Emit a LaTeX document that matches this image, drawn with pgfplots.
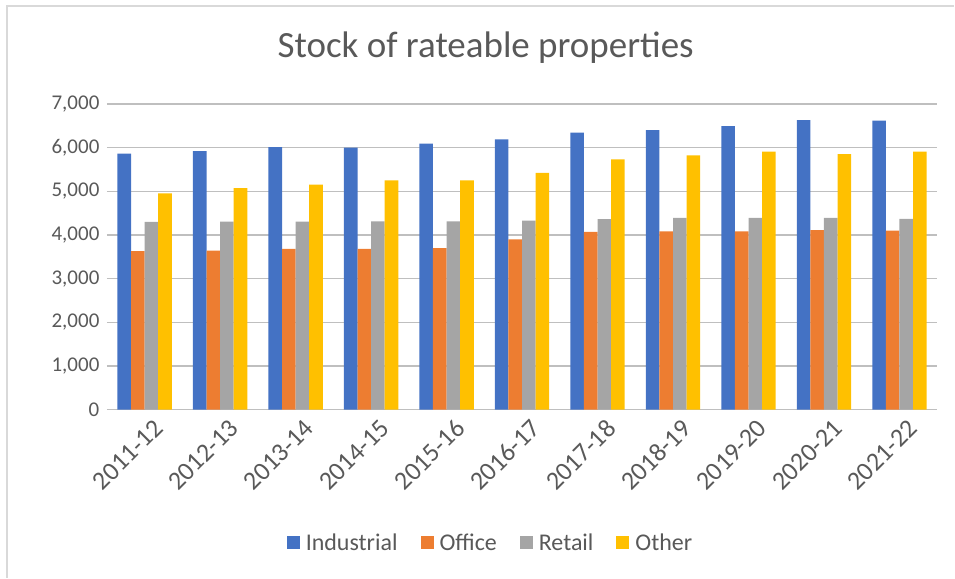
\documentclass[border=0pt]{standalone}
\usepackage{pgfplots}
\pgfplotsset{compat=1.18}
\usepackage{fontspec}
\setmainfont{Carlito}
\definecolor{cInd}{HTML}{4472C4}
\definecolor{cOff}{HTML}{ED7D31}
\definecolor{cRet}{HTML}{A5A5A5}
\definecolor{cOth}{HTML}{FFC000}
\definecolor{txt}{HTML}{595959}
\definecolor{grid}{HTML}{D9D9D9}
\begin{document}
\begin{tikzpicture}[x=1pt,y=1pt]
\path (0,0) rectangle (955,578);
\draw[grid, line width=1.6pt] (7,0) -- (7,572) -- (955,572);
\node[txt, font=\fontsize{37}{44}\selectfont] at (486,530) {Stock of rateable properties};
\begin{axis}[
  at={(107pt,168pt)}, anchor=south west,
  width=831pt, height=306pt, scale only axis,
  xmin=-0.5, xmax=10.5, ymin=0, ymax=7000,
  ytick={0,1000,...,7000},
  xtick={0,...,10},
  xticklabels={2011-12,2012-13,2013-14,2014-15,2015-16,2016-17,2017-18,2018-19,2019-20,2020-21,2021-22},
  x tick label style={rotate=45, anchor=east, font=\fontsize{26}{31}\selectfont, text=txt, xshift=6pt, yshift=-17pt},
  y tick label style={font=\fontsize{21}{25}\selectfont, text=txt, xshift=-4pt},
  /pgf/number format/assume math mode=true,
  /pgf/number format/1000 sep={,},
  scaled y ticks=false,
  ymajorgrids, xmajorgrids=false, grid style={grid, line width=1.3pt},
  axis line style={draw=none},
  xtick style={draw=none}, ytick style={draw=none},
  ybar=0pt, bar width=0.18,
  every axis plot/.append style={draw=none},
  legend style={at={(0.462,-0.435)}, anchor=center, draw=none, legend columns=-1,
    font=\fontsize{24}{28}\selectfont, text=txt,
    /tikz/every odd column/.append style={column sep=4pt},
    /tikz/every even column/.append style={column sep=21pt}},
  legend image code/.code={\fill[#1] (0pt,-6.5pt) rectangle (13pt,6.5pt);},
]
\addplot[fill=cInd] coordinates {(0,5860) (1,5920) (2,6010) (3,6000) (4,6090) (5,6190) (6,6340) (7,6400) (8,6490) (9,6630) (10,6620)};
\addplot[fill=cOff] coordinates {(0,3630) (1,3640) (2,3680) (3,3680) (4,3700) (5,3900) (6,4070) (7,4080) (8,4080) (9,4110) (10,4100)};
\addplot[fill=cRet] coordinates {(0,4300) (1,4305) (2,4305) (3,4313) (4,4313) (5,4330) (6,4360) (7,4390) (8,4390) (9,4390) (10,4370)};
\addplot[fill=cOth] coordinates {(0,4950) (1,5070) (2,5150) (3,5250) (4,5250) (5,5420) (6,5730) (7,5820) (8,5910) (9,5850) (10,5910)};
\legend{Industrial,Office,Retail,Other}
\end{axis}
\end{tikzpicture}
\end{document}
